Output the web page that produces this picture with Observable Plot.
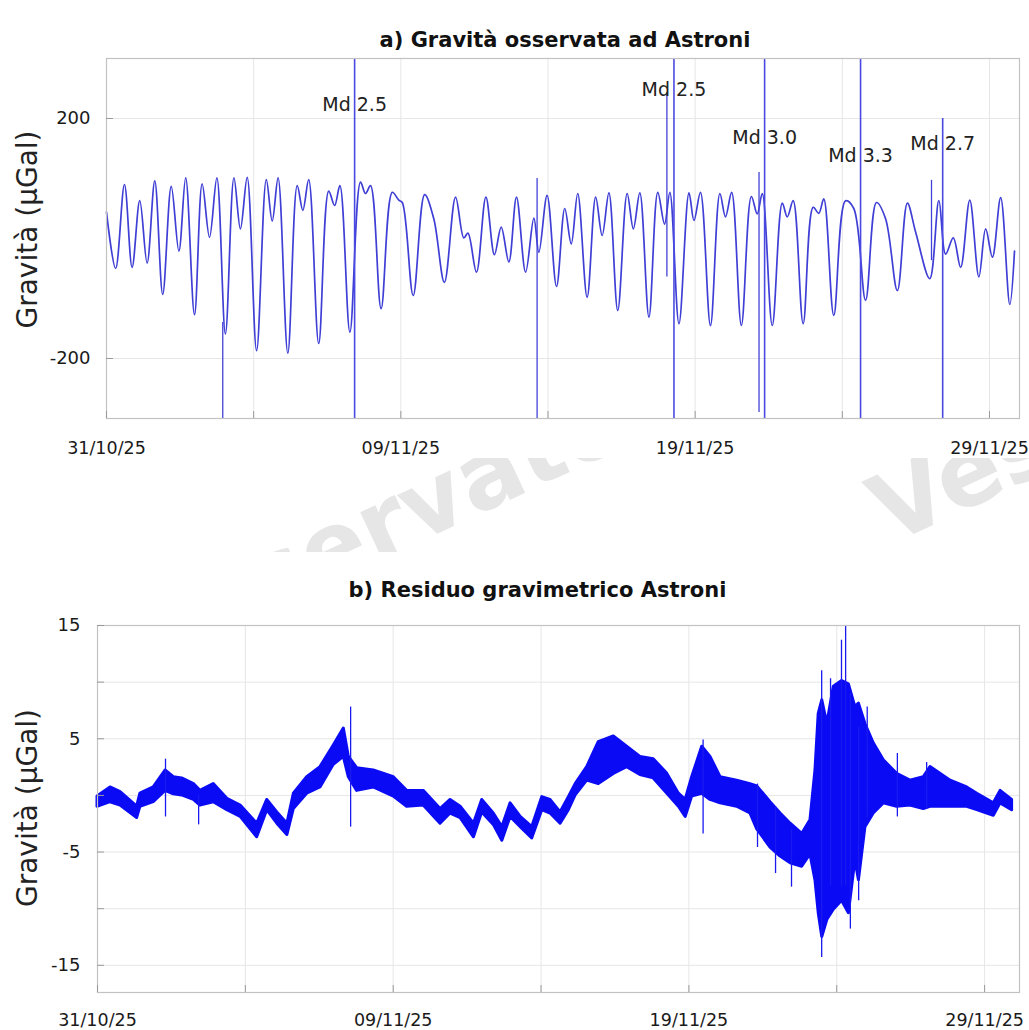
<!DOCTYPE html>
<html>
<head>
<meta charset="utf-8">
<script src="https://cdn.jsdelivr.net/npm/d3@7"></script>
<script src="https://cdn.jsdelivr.net/npm/@observablehq/plot@0.6"></script>
<style>
  html, body { margin: 0; padding: 0; background: #fff; }
  #wrap { position: relative; width: 1029px; height: 1030px; overflow: hidden; background: #fff; font-family: "DejaVu Sans", sans-serif; }
  #wrap svg.panel { position: absolute; left: 0; }
  #wm { position: absolute; left: 0; top: 458px; }
</style>
</head>
<body>
<div id="wrap">
  <svg id="wm" width="1029" height="94">
    <text x="141" y="214" transform="rotate(-25 141 214)" font-family="DejaVu Sans" font-weight="bold" font-size="95" fill="#e6e6e6">Osservatorio</text>
    <text x="890" y="87" transform="rotate(-25 890 87)" font-family="DejaVu Sans" font-weight="bold" font-size="95" fill="#e6e6e6">Vesuviano</text>
  </svg>
</div>
<script>
// ---------- shared axis data ----------
const tickDays = [0, 10, 20, 30];
const tickLabels = ["31/10/25", "09/11/25", "19/11/25", "29/11/25"];
const gridDays = [0, 5, 10, 15, 20, 25, 30];
const yLabel = "Gravità (µGal)";

// ---------- panel a: observed gravity ----------
const titleA = "a) Gravità osservata ad Astroni";
const aDays = [0.00,0.31,0.61,0.87,1.13,1.38,1.64,1.91,2.20,2.46,2.69,2.99,3.25,3.50,3.75,4.04,4.33,4.55,4.78,5.10,
  5.43,5.63,5.83,6.16,6.48,6.67,6.87,7.21,7.55,7.75,7.93,8.27,8.63,8.80,8.97,9.33,9.71,9.93,10.05,10.42,
  10.81,11.12,11.48,11.86,12.14,12.28,12.57,12.89,13.18,13.41,13.67,13.93,14.24,14.52,14.69,14.97,15.29,15.57,15.79,16.01,
  16.33,16.62,16.84,17.07,17.37,17.69,17.90,18.12,18.43,18.73,18.96,19.14,19.45,19.79,19.96,20.18,20.52,20.84,21.03,21.24,
  21.57,21.91,22.11,22.28,22.62,22.96,23.13,23.33,23.67,24.01,24.20,24.37,24.71,25.11,25.39,25.79,26.16,26.47,26.87,27.21,
  27.49,27.97,28.28,28.51,28.77,29.02,29.33,29.64,29.87,30.10,30.38,30.69,30.85];
const aGrav = [44,-50,90,-48,63,-41,96,-93,87,-21,101,-127,91,2,101,-159,101,16,102,-187,
  98,29,101,-191,88,47,98,-175,79,55,88,-156,94,75,88,-117,77,64,60,-95,
  73,33,-73,69,1,9,-56,69,-27,19,-39,69,-56,34,-23,72,-80,50,-9,75,
  -98,69,5,76,-120,75,16,76,-131,77,24,77,-142,76,30,77,-145,75,36,77,
  -145,70,41,75,-145,59,36,63,-142,52,42,66,-128,63,50,-103,60,33,-87,59,
  11,-67,63,-26,1,-48,64,-64,16,-31,68,-110,-21];
// data spikes in the record
const aSpikeDays = [3.95, 14.63, 19.04, 22.17, 28.03];
const aSpikeTop = [-140, 100, 243, 110, 97];
const aSpikeBottom = [-300, -300, -64, -290, -37];
// earthquake markers
const mdDays = [8.43, 19.28, 22.36, 25.62, 28.41];
const mdTop = [300, 300, 300, 300, 200];
const mdLabels = ["Md 2.5", "Md 2.5", "Md 3.0", "Md 3.3", "Md 2.7"];
const mdLabelY = [222, 247, 168, 138, 158];
const aYTicks = [-200, 200];

// ---------- panel b: gravimetric residual ----------
const titleB = "b) Residuo gravimetrico Astroni";
const bDays = [0.00,0.44,0.78,1.34,1.45,1.90,2.30,2.58,2.86,3.26,3.48,3.93,4.39,4.84,5.40,5.74,6.08,6.42,6.64,7.09,
  7.54,7.99,8.33,8.50,8.78,9.34,10.02,10.47,11.03,11.60,11.94,12.28,12.73,13.01,13.40,13.69,13.97,14.31,14.70,15.04,
  15.32,15.66,15.94,16.17,16.56,16.95,17.46,17.91,18.36,18.81,19.27,19.66,19.89,20.11,20.45,20.73,21.07,21.63,22.08,22.31,
  22.76,23.10,23.44,23.83,24.11,24.28,24.39,24.51,24.68,24.90,25.18,25.41,25.63,25.75,25.97,26.25,26.59,27.04,27.49,27.94,
  28.17,28.85,29.41,29.75,30.31,30.54,30.93];
const bUpper = [-0.1,0.7,0.3,-1.0,0.15,0.7,2.2,1.6,1.5,1.0,0.4,1.0,-0.3,-0.9,-2.5,-0.4,-1.5,-2.5,0.15,1.6,
  2.5,4.4,5.9,3.4,2.4,2.2,1.6,0.4,0.4,-1.2,-0.4,-1.0,-2.5,-0.4,-1.6,-2.8,-0.7,-1.9,-2.8,-0.15,
  -0.4,-1.5,-0.15,1.0,2.5,4.7,5.2,4.3,3.4,3.2,1.9,0.15,-0.4,1.6,4.3,3.4,1.6,1.3,1.0,0.8,
  -0.6,-1.6,-2.5,-3.4,-2.2,2.2,7.2,8.4,6.3,9.6,10.1,9.8,7.8,8.1,6.3,4.6,3.1,1.9,1.3,1.6,
  2.5,1.3,0.7,0.15,-0.7,0.4,-0.4];
const bLower = [-1.0,-0.6,-0.9,-2.0,-1.0,-0.6,0.4,0.1,0.0,-0.4,-0.9,-0.6,-1.3,-1.9,-3.7,-1.3,-2.5,-3.5,-1.2,0.15,
  0.7,2.7,3.4,1.6,0.4,0.7,-0.1,-1.0,-0.9,-2.5,-1.6,-2.0,-3.7,-1.5,-2.6,-4.0,-1.9,-2.8,-3.8,-1.3,
  -1.6,-2.5,-1.3,0.0,1.3,1.0,1.9,2.5,1.8,1.5,0.15,-1.0,-1.9,-0.1,0.15,-0.4,-0.7,-1.0,-1.6,-3.0,
  -4.6,-5.4,-6.0,-6.3,-5.2,-7.5,-10.4,-12.5,-11.0,-10.1,-9.3,-10.4,-5.7,-7.5,-2.8,-1.6,-0.7,-1.0,-0.9,-1.2,
  -1.0,-1.0,-1.0,-1.3,-1.8,-0.7,-1.3];
const bSpikeDays = [2.30, 3.42, 8.56, 20.48, 22.32, 22.93, 23.47, 24.49, 24.79, 25.16, 25.30, 25.46, 25.74, 26.03, 27.05, 28.04];
const bSpikeTop = [3.2, 0.0, 7.8, 4.9, 1.0, -1.0, -3.0, 11.0, 10.3, 13.7, 15.0, 9.0, 6.0, 7.8, 3.7, 2.9];
const bSpikeBottom = [-1.9, -2.6, -2.8, -3.4, -4.6, -6.9, -8.1, -14.3, -8.0, -8.0, -8.0, -11.8, -9.3, -2.0, -1.9, -1.2];
const bYLabels = [-15, -5, 5, 15];
const bYGrid = [-15, -10, -5, 0, 5, 10, 15];

const FONT = "DejaVu Sans";
const fmt = d => tickLabels[tickDays.indexOf(d)];
const plain = d => String(d);

// ---------- build panel a ----------
const panelA = Plot.plot({
  width: 1029, height: 462,
  marginTop: 58, marginBottom: 44, marginLeft: 106, marginRight: 10,
  style: { fontFamily: FONT, background: "transparent", overflow: "visible", color: "#1a1a1a" },
  x: { domain: [0, 31.02], axis: null },
  y: { domain: [-300, 300], axis: null },
  marks: [
    Plot.frame({ fill: "white", stroke: null }),
    Plot.gridX(gridDays, { stroke: "#e6e6e6", strokeOpacity: 1 }),
    Plot.gridY(aYTicks, { stroke: "#e6e6e6", strokeOpacity: 1 }),
    Plot.lineY(aGrav, { x: aDays, y: aGrav, curve: "catmull-rom", stroke: "#3f3fd6", strokeWidth: 1.7 }),
    Plot.ruleX(aSpikeDays, { x: aSpikeDays, y1: aSpikeBottom, y2: aSpikeTop, stroke: "#4242d8", strokeWidth: 1.3 }),
    Plot.ruleX(mdDays, { x: mdDays, y1: -300, y2: mdTop, stroke: "#4a4ae2", strokeWidth: 1.6 }),
    Plot.text(mdLabels, { x: mdDays, y: mdLabelY, text: mdLabels, fontSize: 19, fill: "#222" }),
    Plot.frame({ stroke: "#c2c2c2", strokeWidth: 1.2 }),
    Plot.axisX(gridDays, { anchor: "bottom", tickSize: 7, dy: -7, tickFormat: () => "", stroke: "#9a9a9a", label: null }),
    Plot.axisY(aYTicks, { anchor: "left", tickSize: 7, dx: 7, tickFormat: () => "", stroke: "#9a9a9a", label: null }),
    Plot.axisX(tickDays, { anchor: "bottom", tickSize: 0, tickPadding: 23, tickFormat: fmt, fontSize: 17.5, label: null }),
    Plot.axisY(aYTicks, { anchor: "left", tickSize: 0, tickPadding: 16, tickFormat: plain, fontSize: 18, label: null }),
    Plot.text([titleA], { text: d => d, frameAnchor: "top", dy: -26, dx: 2, fontSize: 21, fontWeight: "bold", fill: "#111" }),
    Plot.text([yLabel], { text: d => d, frameAnchor: "left", textAnchor: "middle", rotate: -90, dx: -78, dy: -9, fontSize: 28, fill: "#222" })
  ]
});

// ---------- build panel b ----------
const panelB = Plot.plot({
  width: 1029, height: 490,
  marginTop: 85, marginBottom: 38, marginLeft: 97, marginRight: 10,
  style: { fontFamily: FONT, background: "transparent", overflow: "visible", color: "#1a1a1a" },
  x: { domain: [0, 31.18], axis: null },
  y: { domain: [-17.4, 15], axis: null },
  marks: [
    Plot.frame({ fill: "white", stroke: null }),
    Plot.gridX(gridDays, { stroke: "#e6e6e6", strokeOpacity: 1 }),
    Plot.gridY(bYGrid, { stroke: "#e6e6e6", strokeOpacity: 1 }),
    Plot.areaY(bDays, { x: bDays, y1: bLower, y2: bUpper, fill: "#0a0af5", stroke: "#0a0af5", strokeWidth: 3, strokeLinejoin: "round" }),
    Plot.ruleX(bSpikeDays, { x: bSpikeDays, y1: bSpikeBottom, y2: bSpikeTop, stroke: "#1a1af0", strokeWidth: 1.3 }),
    Plot.frame({ stroke: "#c2c2c2", strokeWidth: 1.2 }),
    Plot.axisX(gridDays, { anchor: "bottom", tickSize: 7, dy: -7, tickFormat: () => "", stroke: "#9a9a9a", label: null }),
    Plot.axisY(bYGrid, { anchor: "left", tickSize: 7, dx: 7, tickFormat: () => "", stroke: "#9a9a9a", label: null }),
    Plot.axisX(tickDays, { anchor: "bottom", tickSize: 0, tickPadding: 21, tickFormat: fmt, fontSize: 17.5, label: null }),
    Plot.axisY(bYLabels, { anchor: "left", tickSize: 0, tickPadding: 17, tickFormat: plain, fontSize: 18, label: null }),
    Plot.text([titleB], { text: d => d, frameAnchor: "top", dy: -43, dx: -21, fontSize: 21, fontWeight: "bold", fill: "#111" }),
    Plot.text([yLabel], { text: d => d, frameAnchor: "left", textAnchor: "middle", rotate: -90, dx: -69, dy: -1, fontSize: 28, fill: "#222" })
  ]
});

panelA.classList.add("panel");
panelB.classList.add("panel");
panelA.style.top = "0px";
panelB.style.top = "540px";
const wrap = document.getElementById("wrap");
wrap.appendChild(panelA);
wrap.appendChild(panelB);
</script>
</body>
</html>
